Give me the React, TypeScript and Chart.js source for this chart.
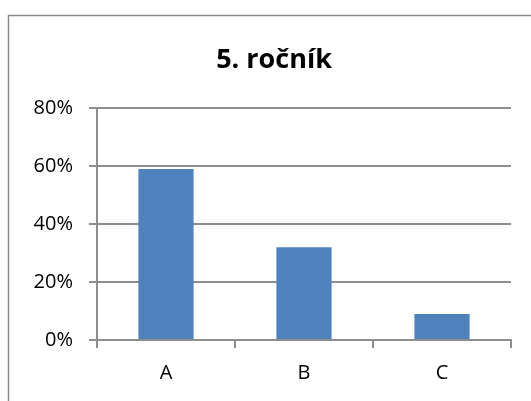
import React, { useEffect, useRef } from "react";
import { Chart, registerables } from "chart.js";

Chart.register(...registerables);

const categories = ["A", "B", "C"];
const values = [59, 32, 9];
const yTicks = [0, 20, 40, 60, 80];
const titleText = "5. ročník";

const GRID = "#8e8e8e";
const FONT = "'Open Sans', sans-serif";

const framePlugin = {
  id: "frameAndTitle",
  afterDraw(chart: any) {
    const ctx = chart.ctx;
    ctx.save();
    ctx.strokeStyle = "#8a8a8a";
    ctx.lineWidth = 1.5;
    ctx.strokeRect(8.5, 15.5, 700, 700);
    ctx.fillStyle = "#000";
    ctx.font = `bold 27px ${FONT}`;
    ctx.textAlign = "center";
    ctx.textBaseline = "alphabetic";
    ctx.fillText(titleText, 274, 68);
    ctx.restore();
  },
};

export default function App() {
  const ref = useRef<HTMLCanvasElement | null>(null);
  useEffect(() => {
    document.body.style.margin = "0";
    const chart = new Chart(ref.current as HTMLCanvasElement, {
      type: "bar",
      data: {
        labels: categories,
        datasets: [
          {
            data: values,
            backgroundColor: "#4F81BD",
            borderWidth: 0,
            barPercentage: 0.4,
            categoryPercentage: 1.0,
          },
        ],
      },
      options: {
        animation: false,
        responsive: false,
        layout: { padding: { left: 0, right: 20, top: 108, bottom: 0 } },
        plugins: { legend: { display: false }, tooltip: { enabled: false }, title: { display: false } },
        scales: {
          x: {
            offset: true,
            grid: { display: true, offset: true, drawOnChartArea: false, tickLength: 8, color: GRID, lineWidth: 2 },
            border: { display: true, color: GRID, width: 2 },
            ticks: { color: "#000", font: { family: FONT, size: 20 }, padding: 13 },
            afterFit(scale: any) {
              scale.height = 61;
            },
          },
          y: {
            min: 0,
            max: 80,
            afterBuildTicks(scale: any) {
              scale.ticks = yTicks.map((v) => ({ value: v }));
            },
            grid: { color: GRID, tickLength: 8, lineWidth: 2 },
            border: { display: true, color: GRID, width: 2 },
            ticks: {
              color: "#000",
              font: { family: FONT, size: 20 },
              padding: 16,
              callback: (v: any) => v + "%",
            },
            afterFit(scale: any) {
              scale.width = 97;
            },
          },
        },
      },
      plugins: [framePlugin],
    });
    return () => chart.destroy();
  }, []);
  return (
    <div style={{ width: 531, height: 401 }}>
      <canvas ref={ref} width={531} height={401} style={{ display: "block" }} />
    </div>
  );
}
